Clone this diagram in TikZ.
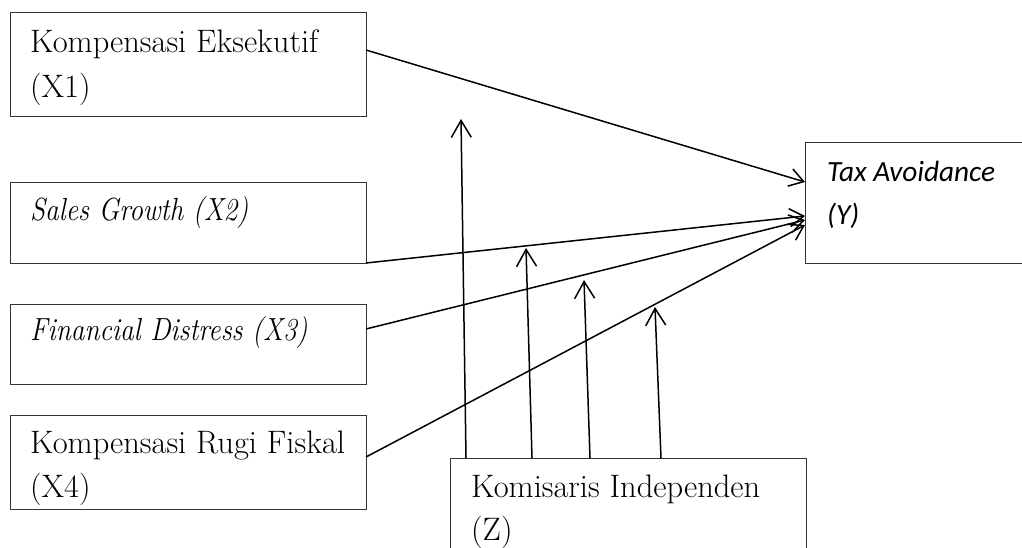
\documentclass[tikz,border=0pt]{standalone}
\usepackage{fontspec}
\usepackage{graphicx}
\newfontfamily\carlito{Carlito}
\usetikzlibrary{arrows.meta}
\newcommand{\narrowit}[1]{\scalebox{0.855}[1]{\itshape\fontsize{32}{38}\selectfont #1}}
\begin{document}
\begin{tikzpicture}[x=1pt,y=-1pt,
  box/.style={draw=black!80,line width=1pt,rectangle,inner sep=0pt,outer sep=0pt,anchor=north west},
  lbl/.style={inner sep=0pt,anchor=base west,font=\fontsize{32.5}{38}\selectfont},
  ylbl/.style={inner sep=0pt,anchor=base west,font=\carlito\itshape\fontsize{29.3}{34}\selectfont},
  conn/.style={line width=1.5pt,black,-{Straight Barb[length=14pt,width=18pt]}},
  mod/.style={line width=1.5pt,black,-{Straight Barb[length=17pt,width=20pt]}}]
\useasboundingbox (0,0) rectangle (1022,548);
\clip (0,0) rectangle (1022,548);
% boxes
\node[box,minimum width=356pt,minimum height=104pt] (x1) at (10,13) {};
\node[box,minimum width=356pt,minimum height=80pt] (x2) at (10,183) {};
\node[box,minimum width=356pt,minimum height=80pt] (x3) at (10,304) {};
\node[box,minimum width=356pt,minimum height=94pt] (x4) at (10,415) {};
\node[box,minimum width=240pt,minimum height=120pt] (y) at (805,143) {};
\node[box,minimum width=356pt,minimum height=120pt] (z) at (450,458) {};
% labels
\node[lbl] (t1a) at (30,53) {Kompensasi Eksekutif};
\node[lbl] (t1b) at (30,98) {(X1)};
\node[lbl] (t2) at (30,220) {\narrowit{Sales Growth (X2)}};
\node[lbl] (t3) at (30,340) {\narrowit{Financial Distress (X3)}};
\node[lbl] (t4a) at (30,453) {Kompensasi Rugi Fiskal};
\node[lbl] (t4b) at (30,497) {(X4)};
\node[ylbl] (tya) at (827,182) {Tax Avoidance};
\node[ylbl] (tyb) at (827,225) {(Y)};
\node[lbl] (tza) at (471,497) {Komisaris Independen};
\node[lbl] (tzb) at (471,540) {(Z)};
% connectors to Y
\draw[conn] ([yshift=15pt]x1.east) -- ([yshift=21pt]y.west);
\draw[conn] (x2.south east) -- ([yshift=-13pt]y.west);
\draw[conn] ([yshift=15pt]x3.east) -- ([yshift=-17pt]y.west);
\draw[conn] ([yshift=5pt]x4.east) -- ([yshift=-22pt]y.west);
% moderating arrows
\coordinate (m1) at (461,119);
\coordinate (m2) at (526,248);
\coordinate (m3) at (584,280);
\coordinate (m4) at (655,307);
\draw[mod] ([xshift=16pt]z.north west) -- (m1);
\draw[mod] ([xshift=82pt]z.north west) -- (m2);
\draw[mod] ([xshift=140pt]z.north west) -- (m3);
\draw[mod] ([xshift=211pt]z.north west) -- (m4);
\end{tikzpicture}
\end{document}
